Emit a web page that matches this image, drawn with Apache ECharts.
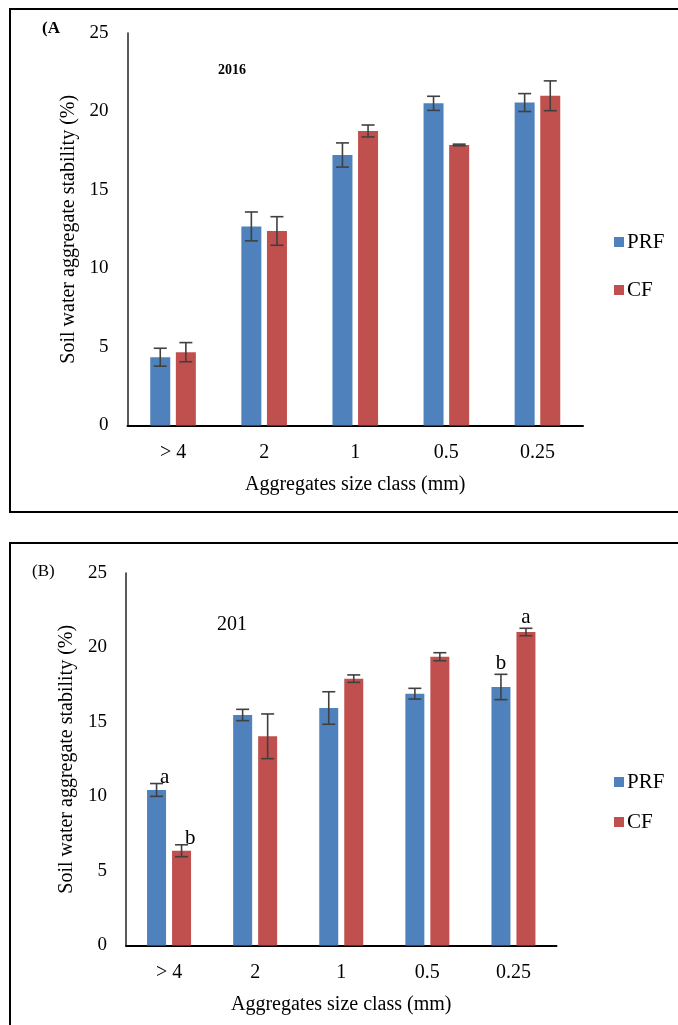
<!DOCTYPE html>
<html><head><meta charset="utf-8">
<script src="https://cdn.jsdelivr.net/npm/echarts@6/dist/echarts.min.js"></script>
<style>html,body{margin:0;padding:0;background:#fff;}#c{width:678px;height:1025px;}</style>
</head><body><div id="c"></div>
<script>
// ---- data ----
const categories = ['> 4', '2', '1', '0.5', '0.25'];
const seriesNames = ['PRF', 'CF'];
// Panel A (2016)
const prfA    = [4.35, 12.68, 17.23, 20.52, 20.57];
const prfAErr = [0.57, 0.92, 0.77, 0.45, 0.57];
const cfA     = [4.67, 12.39, 18.76, 17.87, 21.00];
const cfAErr  = [0.61, 0.91, 0.38, 0.05, 0.95];
// Panel B (201)
const prfB    = [10.44, 15.47, 15.94, 16.90, 17.35];
const prfBErr = [0.43, 0.38, 1.09, 0.36, 0.85];
const cfB     = [6.36, 14.04, 17.91, 19.38, 21.04];
const cfBErr  = [0.40, 1.50, 0.25, 0.27, 0.25];
const sigPrfB = ['a', '', '', '', 'b'];
const sigCfB  = ['b', '', '', '', 'a'];
const yMin = 0, yMax = 25, yInterval = 5;

// ---- rendering ----
const FONT = '"Liberation Serif", "Times New Roman", serif';
const BLUE = '#4F81BD', RED = '#C0504D', ERR = '#404040';

const chart = echarts.init(document.getElementById('c'), null, {renderer: 'canvas'});

function errRender(offset, sig) {
  return function (params, api) {
    const i = api.value(0), v = api.value(1), e = api.value(2);
    const c = api.coord([i, v]);
    const t = api.coord([i, v + e]);
    const b = api.coord([i, v - e]);
    const x = c[0] + offset;
    const cap = 6.5;
    const st = {stroke: ERR, lineWidth: 1.6};
    const kids = [
      {type: 'line', shape: {x1: x, y1: t[1], x2: x, y2: b[1]}, style: st},
      {type: 'line', shape: {x1: x - cap, y1: t[1], x2: x + cap, y2: t[1]}, style: st},
      {type: 'line', shape: {x1: x - cap, y1: b[1], x2: x + cap, y2: b[1]}, style: st}
    ];
    if (sig && sig[i]) {
      const side = (i === 0);
      kids.push({
        type: 'text',
        x: side ? x + 3.5 : x,
        y: side ? t[1] - 6 : t[1] - 11,
        style: {text: sig[i], fontSize: 21, fontFamily: FONT, fill: '#000',
                align: side ? 'left' : 'center', verticalAlign: 'middle'}
      });
    }
    return {type: 'group', children: kids};
  };
}

function yAxisCfg(gi) {
  return {
    type: 'value', gridIndex: gi, min: yMin, max: yMax, interval: yInterval,
    name: 'Soil water aggregate stability (%)', nameLocation: 'middle', nameGap: 47,
    nameTextStyle: {fontSize: 20, fontFamily: FONT, color: '#000'},
    axisLine: {show: true, lineStyle: {color: '#222', width: 1.5}},
    axisTick: {show: false}, splitLine: {show: false},
    axisLabel: {fontSize: 19, fontFamily: FONT, color: '#000', margin: 19}
  };
}
function xAxisCfg(gi) {
  return {
    type: 'category', gridIndex: gi, data: categories,
    name: 'Aggregates size class (mm)', nameLocation: 'middle', nameGap: 49,
    nameTextStyle: {fontSize: 20, fontFamily: FONT, color: '#000'},
    axisLine: {show: true, lineStyle: {color: '#000', width: 2}},
    axisTick: {show: false},
    axisLabel: {fontSize: 20, fontFamily: FONT, color: '#000', margin: 17}
  };
}

const bwA = 20, gapA = 5.6, bwB = 19, gapB = 6;
const offA = (bwA + gapA) / 2, offB = (bwB + gapB) / 2;

function errData(vals, errs) { return vals.map((v, i) => [i, v, errs[i]]); }

const option = {
  backgroundColor: '#fff',
  animation: false,
  grid: [
    {left: 127.5, top: 33, width: 455.5, height: 392.5},
    {left: 126, top: 573, width: 430.5, height: 372.5}
  ],
  xAxis: [xAxisCfg(0), xAxisCfg(1)],
  yAxis: [yAxisCfg(0), yAxisCfg(1)],
  legend: [
    {data: seriesNames, orient: 'vertical', left: 614, top: 231.5, padding: 0,
     itemWidth: 10, itemHeight: 10, itemGap: 27, icon: 'rect',
     textStyle: {fontSize: 21, fontFamily: FONT, color: '#000', padding: [0, 0, 0, -2]}},
    {data: seriesNames, orient: 'vertical', left: 614, top: 771.5, padding: 0,
     itemWidth: 10, itemHeight: 10, itemGap: 19, icon: 'rect',
     textStyle: {fontSize: 21, fontFamily: FONT, color: '#000', padding: [0, 0, 0, -2]}}
  ],
  series: [
    {name: 'PRF', type: 'bar', xAxisIndex: 0, yAxisIndex: 0, data: prfA,
     barWidth: bwA, barGap: (gapA / bwA * 100) + '%', itemStyle: {color: BLUE}},
    {name: 'CF', type: 'bar', xAxisIndex: 0, yAxisIndex: 0, data: cfA,
     barWidth: bwA, barGap: (gapA / bwA * 100) + '%', itemStyle: {color: RED}},
    {name: 'PRF', type: 'bar', xAxisIndex: 1, yAxisIndex: 1, data: prfB,
     barWidth: bwB, barGap: (gapB / bwB * 100) + '%', itemStyle: {color: BLUE}},
    {name: 'CF', type: 'bar', xAxisIndex: 1, yAxisIndex: 1, data: cfB,
     barWidth: bwB, barGap: (gapB / bwB * 100) + '%', itemStyle: {color: RED}},
    {type: 'custom', xAxisIndex: 0, yAxisIndex: 0, data: errData(prfA, prfAErr),
     renderItem: errRender(-offA, null), encode: {x: 0, y: 1}, z: 5, silent: true},
    {type: 'custom', xAxisIndex: 0, yAxisIndex: 0, data: errData(cfA, cfAErr),
     renderItem: errRender(offA, null), encode: {x: 0, y: 1}, z: 5, silent: true},
    {type: 'custom', xAxisIndex: 1, yAxisIndex: 1, data: errData(prfB, prfBErr),
     renderItem: errRender(-offB, sigPrfB), encode: {x: 0, y: 1}, z: 5, silent: true},
    {type: 'custom', xAxisIndex: 1, yAxisIndex: 1, data: errData(cfB, cfBErr),
     renderItem: errRender(offB, sigCfB), encode: {x: 0, y: 1}, z: 5, silent: true}
  ],
  graphic: [
    {type: 'rect', shape: {x: 10, y: 9, width: 700, height: 503},
     style: {fill: 'none', stroke: '#000', lineWidth: 2}},
    {type: 'rect', shape: {x: 10, y: 543, width: 700, height: 600},
     style: {fill: 'none', stroke: '#000', lineWidth: 2}},
    {type: 'text', x: 42, y: 29,
     style: {text: '(A', fontSize: 17, fontWeight: 'bold', fontFamily: FONT, fill: '#000', verticalAlign: 'middle'}},
    {type: 'text', x: 218, y: 70,
     style: {text: '2016', fontSize: 14, fontWeight: 'bold', fontFamily: FONT, fill: '#000', verticalAlign: 'middle'}},
    {type: 'text', x: 32, y: 572,
     style: {text: '(B)', fontSize: 17, fontFamily: FONT, fill: '#000', verticalAlign: 'middle'}},
    {type: 'text', x: 217, y: 625,
     style: {text: '201', fontSize: 20, fontFamily: FONT, fill: '#000', verticalAlign: 'middle'}}
  ]
};
chart.setOption(option);
</script>
</body></html>
